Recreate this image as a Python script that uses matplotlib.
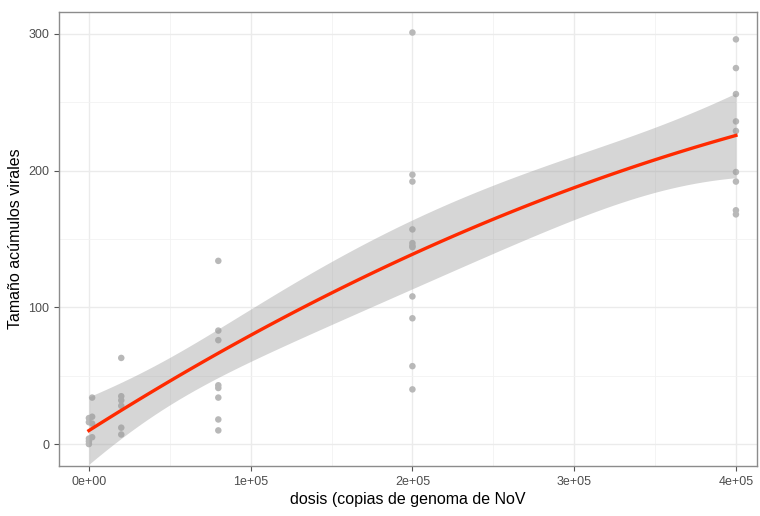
import numpy as np
import matplotlib
matplotlib.use('Agg')
import matplotlib.pyplot as plt
from matplotlib.ticker import MultipleLocator, FuncFormatter

# valores
dosis = ([0] * 5 + [2000] * 4 + [20000] * 6 + [80000] * 8
         + [200000] * 11 + [400000] * 9)
tamano = ([19, 16, 4, 2, 0] + [34, 20, 15, 5]
          + [63, 35, 32, 28, 12, 7]
          + [134, 83, 76, 43, 41, 34, 18, 10]
          + [301, 197, 192, 157, 147, 145, 144, 108, 92, 57, 40]
          + [296, 275, 256, 236, 229, 199, 192, 171, 168])

x_ticks = [0, 100000, 200000, 300000, 400000]
x_labels = ['0e+00', '1e+05', '2e+05', '3e+05', '4e+05']
y_ticks = [0, 100, 200, 300]


def t_quant(df, z=1.959964):
    return (z + (z**3 + z) / (4 * df)
            + (5 * z**5 + 16 * z**3 + 3 * z) / (96 * df**2))


def smooth(xd, yd):
    # y ~ poly(x, 2), 95% band
    x = np.asarray(xd, float) / 1e5
    y = np.asarray(yd, float)
    X = np.column_stack([np.ones_like(x), x, x ** 2])
    beta, *_ = np.linalg.lstsq(X, y, rcond=None)
    df = len(x) - X.shape[1]
    s2 = np.sum((y - X @ beta) ** 2) / df
    cov = s2 * np.linalg.inv(X.T @ X)
    xs = np.linspace(x.min(), x.max(), 80)
    Xs = np.column_stack([np.ones_like(xs), xs, xs ** 2])
    fit = Xs @ beta
    se = np.sqrt(np.einsum('ij,jk,ik->i', Xs, cov, Xs))
    t = t_quant(df)
    return xs * 1e5, fit, fit - t * se, fit + t * se


def main():
    plt.rcParams['font.family'] = ['Liberation Sans', 'DejaVu Sans']
    fig = plt.figure(figsize=(7.6, 5.16), dpi=100)
    ax = fig.add_axes([0.0776, 0.097, 0.9184, 0.8797])

    xs, fit, lo, hi = smooth(dosis, tamano)

    ax.scatter(dosis, tamano, s=22, color='#b8b8b8', edgecolors='none', zorder=3)
    ax.fill_between(xs, lo, hi, color='#999999', alpha=0.4, linewidth=0, zorder=4)
    ax.plot(xs, fit, color='#ff2a00', lw=2.4, zorder=5)

    ax.set_xlim(-18500, 413000)
    ax.set_ylim(-16, 316)
    ax.set_xticks(x_ticks)
    ax.xaxis.set_major_formatter(FuncFormatter(lambda v, p: x_labels[x_ticks.index(v)] if v in x_ticks else ''))
    ax.set_yticks(y_ticks)
    ax.xaxis.set_minor_locator(MultipleLocator(50000))
    ax.yaxis.set_minor_locator(MultipleLocator(50))

    ax.grid(which='major', color='#ebebeb', lw=1.0, zorder=0)
    ax.grid(which='minor', color='#f2f2f2', lw=0.6, zorder=0)
    ax.set_axisbelow(True)
    for sp in ax.spines.values():
        sp.set_color('#8c8c8c')
        sp.set_linewidth(1.0)
    ax.tick_params(which='major', length=3.5, color='#555555', labelcolor='#4d4d4d', labelsize=9)
    ax.tick_params(which='minor', length=0)

    ax.set_xlabel('dosis (copias de genoma de NoV', fontsize=11.5, color='black', labelpad=3)
    ax.set_ylabel('Tamaño acúmulos virales', fontsize=11.5, color='black', labelpad=4)

    fig.savefig('out.png', dpi=100)
    plt.close(fig)


if __name__ == '__main__':
    main()
